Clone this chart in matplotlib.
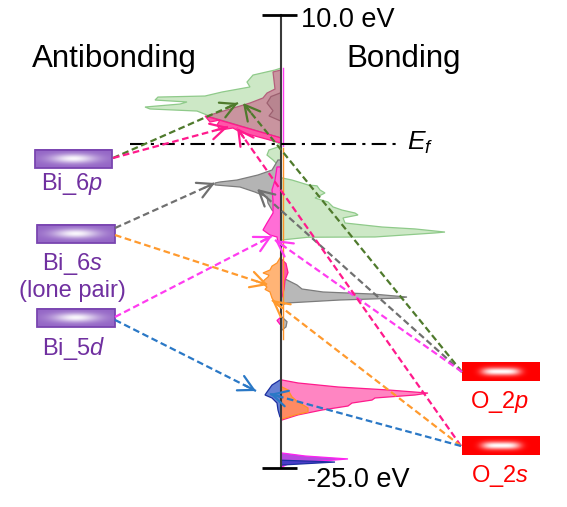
import numpy as np
import matplotlib
matplotlib.use('Agg')
import matplotlib.pyplot as plt
from matplotlib.colors import to_rgb
from matplotlib.patches import Rectangle

plt.rcParams['font.family'] = ['Liberation Sans', 'DejaVu Sans']
plt.rcParams['mathtext.fontset'] = 'custom'
plt.rcParams['mathtext.rm'] = 'Liberation Sans'
plt.rcParams['mathtext.it'] = 'Liberation Sans:italic'

# ---------------- data ----------------
E_TOP, E_BOT, EF = 10.0, -25.0, 0.0
tick_labels = ['10.0 eV', '-25.0 eV']
side_titles = ['Antibonding', 'Bonding']

# Bi / O atomic levels (eV)
bi_names = ['Bi_6$p$', 'Bi_6$s$', 'Bi_5$d$']
bi_E = [-1.13, -6.92, -13.41]
o_names = ['O_2$p$', 'O_2$s$']
o_E = [-17.58, -23.30]

# DOS profiles: energy (eV) and signed width (negative = antibonding side)
green_ab_E = [5.90, 5.75, 5.36, 4.82, 4.44, 4.05, 3.74, 3.66, 3.43, 3.28, 3.12, 2.89, 2.74, 2.58, 2.27, 1.50, 0.73, 0.11, -0.04]
green_ab_w = [0, -6, -28, -34, -31, -59, -76, -123, -126, -94, -101, -136, -131, -84, -74, -49, -23, -3, 0]
green_ab2_E = [-0.04, -0.20, -0.43, -0.82, -1.20, -1.59, -1.74]
green_ab2_w = [0, -3, -12, -14, -8, -3, 0]
mauve_ab_E = [5.75, 5.60, 4.28, 3.97, 3.59, 3.20, 2.20, 0.50]
mauve_ab_w = [0, -8, -6, -14, -18, -31, -74, 0]
mauve2_ab_E = [4.00, 3.70, 3.20, 2.60, 2.20, 1.80]
mauve2_ab_w = [0, -10, -14, -8, -12, 0]
pink_ab_E = [0.50, 2.20, 1.73, 1.89, 1.50, 1.11, 1.27, 0.96, 0.11]
pink_ab_w = [0, -76, -71, -61, -64, -61, -48, -41, 0]
gray_ab_E = [-1.20, -1.98, -2.36, -2.75, -2.90, -2.98, -3.13, -3.29, -3.68, -4.06, -4.53, -5.07, -5.30]
gray_ab_w = [-3, -9, -23, -44, -61, -66, -66, -41, -26, -14, -13, -9, -3]
mag_ab_E = [-1.74, -2.75, -3.52, -4.29, -5.30, -6.07, -6.61, -7.00, -7.15, -7.62]
mag_ab_w = [-4, -6, -9, -8, -8, -14, -18, -11, -4, -3]
green_b_E = [-2.59, -2.75, -3.13, -3.20, -3.52, -3.75, -4.14, -4.45, -4.83, -5.07, -5.30, -5.45, -5.68,
             -6.07, -6.38, -6.53, -6.77, -6.84, -7.15, -7.17, -7.38]
green_b_w = [1, 11, 27, 36, 39, 44, 34, 47, 52, 61, 74, 77, 62, 64, 101, 134, 164, 154, 94, 27, 1]
orange_ab_E = [-8.77, -9.16, -9.40, -9.70, -9.93, -10.10, -10.24, -10.50, -10.71, -11.02, -11.20, -11.40, -11.87, -12.25, -12.56]
orange_ab_w = [-1, -4, -9, -11, -18, -12, -13, -17, -19, -14, -16, -11, -9, -6, -1]
pink_b2_E = [-8.90, -9.20, -9.90, -10.50, -11.20, -11.80]
pink_b2_w = [1, 5, 7, 4, 3, 1]
gray_b_E = [-10.32, -10.47, -10.86, -11.17, -11.40, -11.56, -11.79, -11.87, -12.02, -12.25, -12.41]
gray_b_w = [1, 6, 16, 21, 42, 92, 126, 119, 59, 6, 1]
gray_b2_E = [-13.33, -13.70, -14.10, -14.34]
gray_b2_w = [1, 6, 5, 1]
mag_ab2_E = [-13.40, -13.60, -13.90]
mag_ab2_w = [-1, -4, -1]
blue_ab_E = [-18.20, -18.59, -19.13, -19.36, -19.59, -19.98, -20.52, -21.06]
blue_ab_w = [-1, -9, -14, -16, -9, -4, -3, -1]
pink_b_E = [-18.20, -18.43, -18.74, -18.97, -19.21, -19.36, -19.59, -19.75, -19.98, -20.21, -20.52, -20.90, -21.29]
pink_b_w = [1, 17, 57, 107, 147, 134, 94, 91, 71, 67, 41, 17, 1]
orange_b_E = [-18.74, -18.97, -19.51, -19.90, -20.36, -20.67, -20.90, -21.21]
orange_b_w = [1, 7, 11, 17, 27, 27, 14, 1]
violet_b_E = [-23.84, -24.07, -24.30, -24.46, -24.69, -24.92]
violet_b_w = [1, 24, 67, 41, 7, 1]
blue_b_E = [-24.40, -24.54, -24.77]
blue_b_w = [1, 54, 1]

# arrows: source level, source offset (eV), target energy, target width, colour
arrow_src = ['Bi_6p', 'Bi_6p', 'Bi_6s', 'Bi_6s', 'Bi_5d', 'Bi_5d',
             'O_2p', 'O_2p', 'O_2p', 'O_2s', 'O_2s', 'O_2s']
arrow_src_dE = [0.08, 0.08, 0.46, -0.08, 0.08, -0.15, 0, 0, 0, 0, 0, 0]
arrow_tgt_E = [3.20, 1.35, -2.98, -10.86, -7.08, -19.05, 3.20, -3.44, -7.38, 1.27, -12.02, -19.28]
arrow_tgt_w = [-43, -53, -66, -13, -9, -25, -38, -24, -6, -44, -9, -11]
arrow_col = ['#4f7a2c', '#ff1a8c', '#707070', '#ff9a2e', '#ff3cf0', '#2a78c6',
             '#4f7a2c', '#707070', '#ff3cf0', '#ff1a8c', '#ff9a2e', '#2a78c6']

# ---------------- layout ----------------
AX_X = 281
PX_PER_EV = 12.943
fig = plt.figure(figsize=(5.67, 5.07), dpi=100)
ax = fig.add_axes([0, 0, 1, 1])
ax.set_xlim(0, 567)
ax.set_ylim(E_TOP - 492 / PX_PER_EV, E_TOP + 15 / PX_PER_EV)
ax.axis('off')


def dos(E, w, fc, ec, z=2, lw=0.9, alpha=1.0):
    E = list(E); w = list(w)
    xs = [AX_X + v for v in w] + [AX_X, AX_X]
    ys = E + [E[-1], E[0]]
    ax.fill(xs, ys, facecolor=fc, edgecolor=ec, lw=lw, zorder=z, alpha=alpha)


dos(green_ab_E, green_ab_w, '#cde8c6', '#8fca8a', 2)
dos(green_ab2_E, green_ab2_w, '#cde8c6', '#8fca8a', 2)
dos(mauve_ab_E, mauve_ab_w, '#c9949f', '#b4607c', 3)
dos(mauve2_ab_E, mauve2_ab_w, '#b88590', '#9c6070', 3.5)
dos(pink_ab_E, pink_ab_w, '#ff55a8', '#ff1a8c', 4)
dos(gray_ab_E, gray_ab_w, '#b4b4b4', '#7c7c7c', 3)
dos(mag_ab_E, mag_ab_w, '#ff6ed6', '#ff14b4', 4)
dos(green_b_E, green_b_w, '#cde8c6', '#8fca8a', 2)
dos(orange_ab_E, orange_ab_w, '#ffb476', '#ff9226', 3)
dos(pink_b2_E, pink_b2_w, '#ff55a8', '#ff1a8c', 4)
dos(gray_b_E, gray_b_w, '#b8b8b8', '#7c7c7c', 3)
dos(gray_b2_E, gray_b2_w, '#b8b8b8', '#7c7c7c', 3)
dos(mag_ab2_E, mag_ab2_w, '#ff6ed6', '#ff14b4', 3)
dos(blue_ab_E, blue_ab_w, '#6680d4', '#1c2fa0', 3)
dos(pink_b_E, pink_b_w, '#ff85c2', '#ff1a8c', 3)
dos(orange_b_E, orange_b_w, '#ff8a62', '#ff9226', 4)
dos(violet_b_E, violet_b_w, '#b848e0', '#ff22f0', 3)
dos(blue_b_E, blue_b_w, '#4a3cc8', '#1c2fa0', 4)

# thin strips along axis
ax.plot([AX_X + 1.8] * 2, [5.9, -0.1], color='#ff3cf0', lw=1.0, zorder=5)
ax.plot([AX_X + 1.8] * 2, [-0.3, -15.0], color='#ff9226', lw=1.0, zorder=5)

# energy axis
ax.plot([AX_X, AX_X], [E_TOP, E_BOT], color='#3a3a3a', lw=1.5, zorder=6)
for e in [E_TOP, E_BOT]:
    ax.plot([262, 297], [e, e], color='black', lw=2.0, zorder=6, solid_capstyle='butt')
ax.text(301, E_TOP - 12 / PX_PER_EV, tick_labels[0], fontsize=19.5, ha='left', va='baseline')
ax.text(307, E_TOP - 472 / PX_PER_EV, tick_labels[1], fontsize=19.5, ha='left', va='baseline')

# Fermi level
ax.plot([130, 398], [EF, EF], color='black', lw=1.5, linestyle=(0, (7, 3, 1.5, 3)), zorder=7)
ax.text(407, EF - 5.5 / PX_PER_EV, '$E_f$', fontsize=19, ha='left', va='baseline', zorder=7)

# titles
ax.text(32, E_TOP - 52 / PX_PER_EV, side_titles[0], fontsize=22.5, ha='left', va='baseline')
ax.text(346, E_TOP - 52 / PX_PER_EV, side_titles[1], fontsize=22.5, ha='left', va='baseline')


def grad_box(x0, x1, ec, half, base, peak, sx, px, sy, edge=None):
    nx, ny = 160, 40
    u = np.linspace(-1, 1, nx)
    v = np.linspace(-1, 1, ny)
    U, V = np.meshgrid(u, v)
    I = peak * np.exp(-np.abs(U / sx) ** px - (V / sy) ** 2)
    b = np.array(to_rgb(base))
    img = b[None, None, :] * (1 - I[..., None]) + I[..., None]
    ax.imshow(img, extent=(x0, x1, ec - half, ec + half), aspect='auto',
              interpolation='bilinear', zorder=8)
    if edge:
        ax.add_patch(Rectangle((x0, ec - half), x1 - x0, 2 * half, fill=False,
                               edgecolor=edge, lw=1.3, zorder=9))


HALF = 9.2 / PX_PER_EV
bi_x = [(35, 112), (37, 115), (37, 115)]
for (x0, x1), e in zip(bi_x, bi_E):
    grad_box(x0, x1, e, HALF, '#9466c6', 0.95, 0.6, 2, 0.5, edge='#7a45b0')
for e in o_E:
    grad_box(462, 540, e, HALF, '#ff0000', 1.0, 0.5, 4, 0.42)

# level labels
purple = '#7030a0'
ax.text(72, bi_E[0] - 31 / PX_PER_EV, bi_names[0], fontsize=17, color=purple, ha='center', va='baseline')
ax.text(72, bi_E[1] - 36 / PX_PER_EV, bi_names[1], fontsize=17, color=purple, ha='center', va='baseline')
ax.text(72, bi_E[1] - 63 / PX_PER_EV, '(lone pair)', fontsize=17, color=purple, ha='center', va='baseline')
ax.text(74, bi_E[2] - 37 / PX_PER_EV, bi_names[2], fontsize=17, color=purple, ha='center', va='baseline')
for e, n in zip(o_E, o_names):
    ax.text(500, e - 36 / PX_PER_EV, n, fontsize=17, color='#ff0000', ha='center', va='baseline')

# arrows
src_pos = {'Bi_6p': (113, bi_E[0]), 'Bi_6s': (115, bi_E[1]), 'Bi_5d': (115, bi_E[2]),
           'O_2p': (462, o_E[0]), 'O_2s': (461, o_E[1])}
fig.canvas.draw()
for s, dE, te, tw, c in zip(arrow_src, arrow_src_dE, arrow_tgt_E, arrow_tgt_w, arrow_col):
    sx, sy = src_pos[s]
    sy = sy + dE
    tx, ty = AX_X + tw, te
    ax.plot([sx, tx], [sy, ty], color=c, lw=1.6, linestyle=(0, (3, 1.6)), zorder=10)
    p0 = ax.transData.transform((sx, sy))
    p1 = ax.transData.transform((tx, ty))
    L = np.hypot(*(p1 - p0))
    f = 12.0 / L
    hx, hy = tx - f * (tx - sx), ty - f * (ty - sy)
    ax.annotate('', xy=(tx, ty), xytext=(hx, hy),
                arrowprops=dict(arrowstyle='->,head_length=0.6,head_width=0.32', color=c,
                                lw=1.6, shrinkA=0, shrinkB=0, mutation_scale=18),
                zorder=11)

ax.set_xlim(0, 567)
ax.set_ylim(E_TOP - 492 / PX_PER_EV, E_TOP + 15 / PX_PER_EV)
fig.savefig('out.png', dpi=100)
